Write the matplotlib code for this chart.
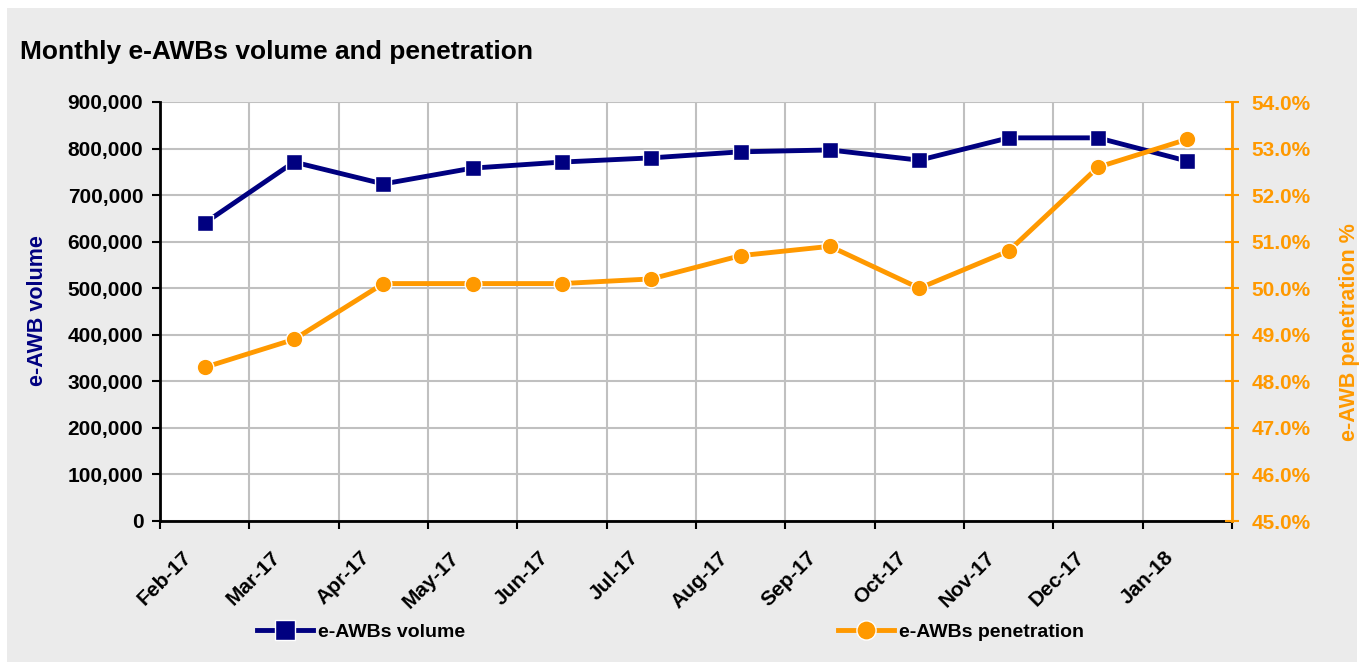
import matplotlib
matplotlib.use("Agg")
import matplotlib.pyplot as plt
import matplotlib.transforms as mtransforms
from matplotlib.patches import Rectangle
from matplotlib.ticker import FuncFormatter, FixedLocator

plt.rcParams['font.family'] = ['Liberation Sans', 'DejaVu Sans']
plt.rcParams['font.weight'] = 'bold'

months = ['Feb-17', 'Mar-17', 'Apr-17', 'May-17', 'Jun-17', 'Jul-17',
          'Aug-17', 'Sep-17', 'Oct-17', 'Nov-17', 'Dec-17', 'Jan-18']
volume = [640000, 771000, 724000, 758000, 771000, 780000,
          793000, 797000, 775000, 823000, 823000, 773000]
penetration = [48.3, 48.9, 50.1, 50.1, 50.1, 50.2,
               50.7, 50.9, 50.0, 50.8, 52.6, 53.2]

NAVY = '#000080'
ORANGE = '#FF9900'
BG = '#EBEBEB'
W, H = 1364, 668

fig = plt.figure(figsize=(W / 100, H / 100), dpi=100, facecolor='white')
# grey chart panel inside a thin white margin
fig.patches.append(Rectangle((7 / W, 6 / H), 1 - 14 / W, 1 - 14 / H,
                             transform=fig.transFigure, facecolor=BG,
                             edgecolor='none', zorder=-10))

ax = fig.add_axes([160 / W, 1 - 521 / H, (1232 - 160) / W, (521 - 102) / H])
ax2 = ax.twinx()

x = list(range(len(months)))

ax.set_xlim(-0.5, len(months) - 0.5)
ax.set_ylim(0, 900000)
ax.set_yticks(range(0, 900001, 100000))
ax.yaxis.set_major_formatter(FuncFormatter(lambda v, p: f'{int(v):,}'))
ax.set_xticks([])
# month labels: slanted, ending just left of each category centre
lbl_tr = mtransforms.blended_transform_factory(ax.transData, ax.transAxes) + \
    mtransforms.ScaledTranslation(-0.23, -0.27, fig.dpi_scale_trans)
for i, m in zip(x, months):
    ax.text(i, 0, m, transform=lbl_tr, rotation=45, rotation_mode='anchor',
            ha='right', va='top', fontsize=15, fontweight='bold')
ax.xaxis.set_minor_locator(FixedLocator([i - 0.5 for i in range(len(months) + 1)]))
ax.tick_params(axis='x', which='minor', length=6, width=1.5, direction='out', color='black')
ax.tick_params(axis='y', length=6, width=1.5, labelsize=15, color='black', pad=6)
ax.grid(True, axis='x', which='minor', color='#C0C0C0', linewidth=1.5)
ax.grid(True, axis='y', which='major', color='#C0C0C0', linewidth=1.5)
ax.set_axisbelow(True)
for lbl in ax.get_yticklabels():
    lbl.set_fontweight('bold')

for s in ['top', 'right']:
    ax.spines[s].set_visible(False)
ax.spines['left'].set_linewidth(2)
ax.spines['bottom'].set_linewidth(2)

ax2.set_ylim(45, 54)
ax2.set_yticks([45 + i for i in range(10)])
ax2.yaxis.set_major_formatter(FuncFormatter(lambda v, p: f'{v:.1f}%'))
ax2.tick_params(axis='y', colors=ORANGE, direction='inout', length=10, width=1.5,
                labelsize=15, pad=9)
for lbl in ax2.get_yticklabels():
    lbl.set_fontweight('bold')
for s in ['top', 'left', 'bottom']:
    ax2.spines[s].set_visible(False)
ax2.spines['right'].set_color(ORANGE)
ax2.spines['right'].set_linewidth(2)

l1, = ax.plot(x, volume, color=NAVY, linewidth=3.5, marker='s', markersize=12,
              markerfacecolor=NAVY, markeredgecolor='white', markeredgewidth=1,
              label='e-AWBs volume', zorder=5, clip_on=False)
l2, = ax2.plot(x, penetration, color=ORANGE, linewidth=3.5, marker='o', markersize=12,
               markerfacecolor=ORANGE, markeredgecolor='white', markeredgewidth=1,
               label='e-AWBs penetration', zorder=5, clip_on=False)

fig.text(20 / W, 1 - 59 / H, 'Monthly e-AWBs volume and penetration',
         fontsize=19, fontweight='bold', va='baseline', ha='left')
fig.text(38 / W, 1 - 311 / H, 'e-AWB volume', rotation=90, color=NAVY,
         fontsize=15.5, fontweight='bold', va='center', ha='center')
fig.text(1349 / W, 1 - 332 / H, 'e-AWB penetration %', rotation=90, color=ORANGE,
         fontsize=15.5, fontweight='bold', va='center', ha='center')

leg_kw = dict(frameon=False, handlelength=2.9, handletextpad=0.25, markerscale=1.15,
              borderaxespad=0, borderpad=0, loc='center left',
              prop={'weight': 'bold', 'size': 14})
fig.legend(handles=[l1], bbox_to_anchor=(257 / W, 1 - 632 / H), **leg_kw)
fig.legend(handles=[l2], bbox_to_anchor=(838 / W, 1 - 632 / H), **leg_kw)

fig.savefig('out.png', dpi=100, facecolor='white')
